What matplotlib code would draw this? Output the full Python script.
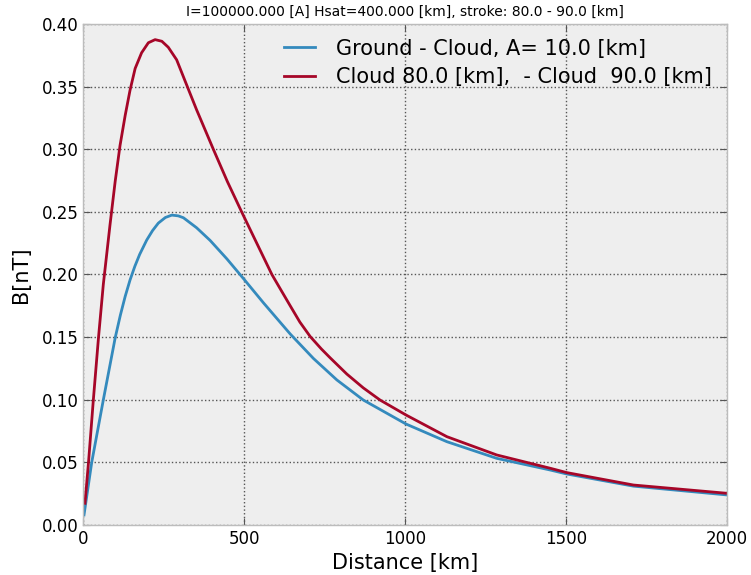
import matplotlib
matplotlib.use('Agg')
import matplotlib.pyplot as plt

plt.style.use('bmh')

# distance [km] and B [nT]
dist_gc = [2, 26, 62, 99, 115, 130, 145, 160, 175, 197, 215, 233, 255, 275, 295,
           311, 352, 394, 446, 500, 560, 643, 715, 788, 870, 1003, 1130, 1285,
           1451, 1503, 1710, 2000]
b_gc = [0.008, 0.050, 0.0998, 0.1495, 0.1675, 0.1825, 0.1955, 0.2065, 0.2160,
        0.2275, 0.2350, 0.2410, 0.2455, 0.2474, 0.2468, 0.2453, 0.2373, 0.2272,
        0.2125, 0.1960, 0.1773, 0.1525, 0.1330, 0.1158, 0.0998, 0.0806, 0.0665,
        0.0532, 0.0439, 0.0407, 0.031, 0.0240]

dist_cc = [5, 16, 31, 47, 62, 83, 99, 114, 130, 145, 161, 181, 202, 223, 244,
           264, 290, 321, 352, 404, 448, 492, 539, 586, 611, 643, 673, 705, 740,
           767, 819, 870, 922, 1003, 1130, 1285, 1451, 1503, 1710, 2000]
b_cc = [0.0173, 0.050, 0.0998, 0.1495, 0.192, 0.240, 0.2745, 0.303, 0.327,
        0.347, 0.3645, 0.377, 0.385, 0.3875, 0.3862, 0.3814, 0.3714, 0.3514,
        0.3315, 0.300, 0.274, 0.250, 0.225, 0.200, 0.189, 0.175, 0.162, 0.1505,
        0.1405, 0.1335, 0.1205, 0.1095, 0.0998, 0.0878, 0.0705, 0.0559, 0.0453,
        0.0418, 0.0319, 0.0253]

fig = plt.figure(figsize=(7.51, 5.75), dpi=100)
fig.patch.set_facecolor('white')
ax = fig.add_axes([0.111, 0.087, 0.8567, 0.8713])
ax.set_facecolor('#eeeeee')

ax.plot(dist_gc, b_gc, color='#348ABD', lw=2, label='Ground - Cloud, A= 10.0 [km]')
ax.plot(dist_cc, b_cc, color='#A60628', lw=2, label='Cloud 80.0 [km],  - Cloud  90.0 [km]')

ax.set_xlim(0, 2000)
ax.set_ylim(0, 0.40)
ax.set_xticks([0, 500, 1000, 1500, 2000])
ax.set_yticks([0.0, 0.05, 0.10, 0.15, 0.20, 0.25, 0.30, 0.35, 0.40])
ax.yaxis.set_major_formatter(matplotlib.ticker.FormatStrFormatter('%.2f'))
ax.tick_params(direction='in', top=True, right=True, labelsize=12, length=5,
               color='#555555')
ax.minorticks_off()
ax.grid(True, color='#555555', linestyle=':', linewidth=1)
for s in ax.spines.values():
    s.set_color('#bcbcbc')
    s.set_linewidth(1)

ax.set_xlabel('Distance [km]', fontsize=15)
ax.set_ylabel('B[nT]', fontsize=15, labelpad=8)
ax.set_title('I=100000.000 [A] Hsat=400.000 [km], stroke: 80.0 - 90.0 [km]', fontsize=10)
ax.legend(loc='upper right', frameon=False, fontsize=15, handlelength=1.5,
          handletextpad=1.0, borderaxespad=0.3, labelspacing=0.4)

fig.savefig('out.png', dpi=100)
